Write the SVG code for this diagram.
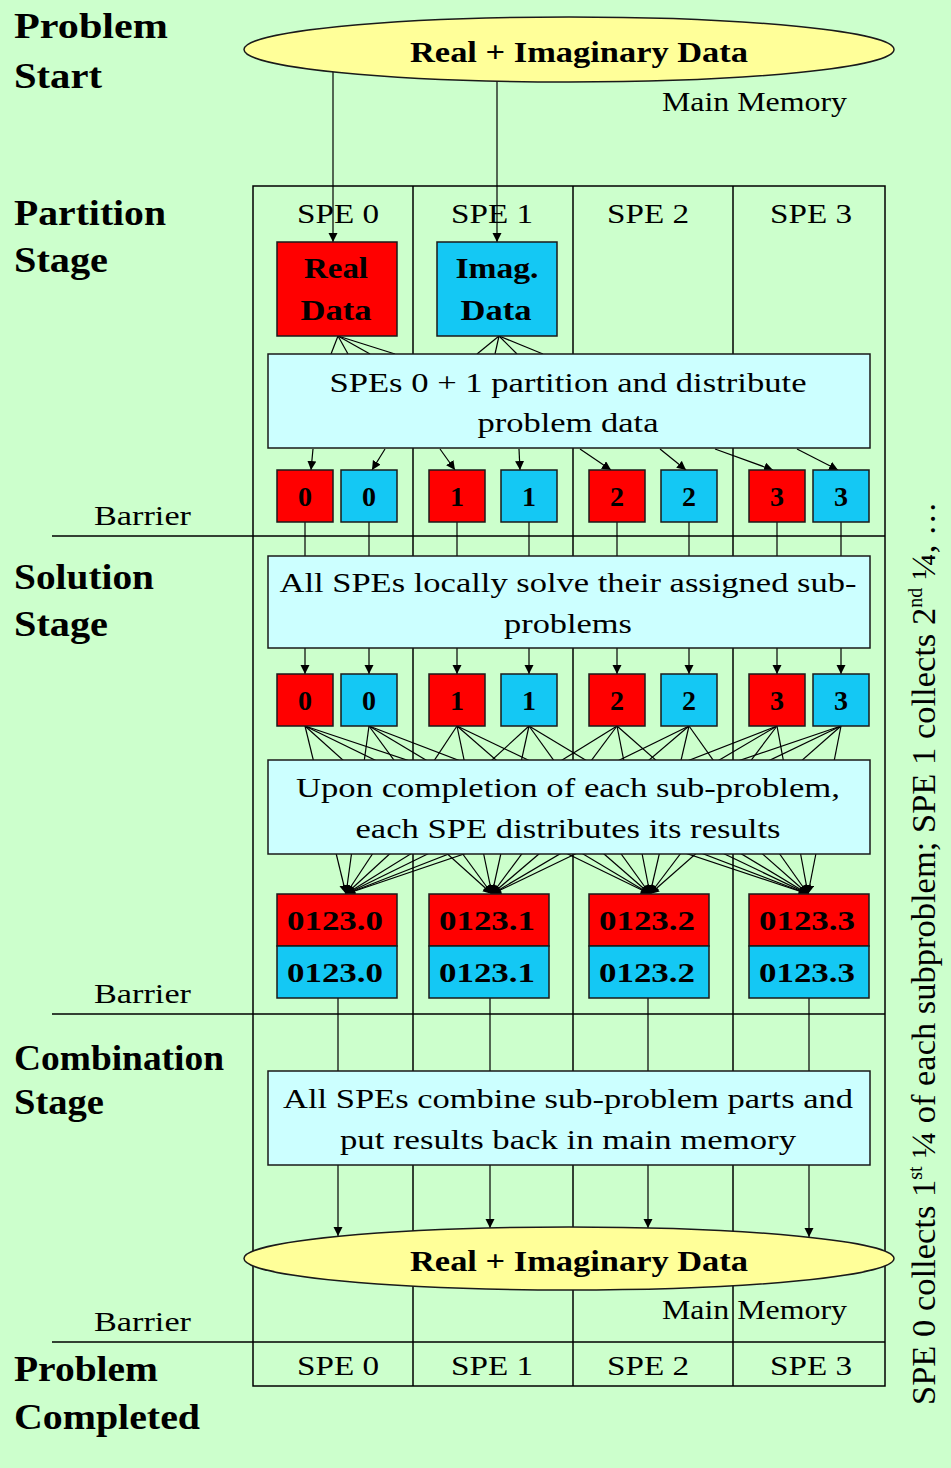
<svg xmlns="http://www.w3.org/2000/svg" width="951" height="1468" viewBox="0 0 951 1468">
<defs>
<style>
text{font-family:"Liberation Serif","Times New Roman",serif;fill:#000}
.r{font-size:27px}
.c{text-anchor:middle}
.bx{font-size:30px;font-weight:bold;text-anchor:middle}
.lb{font-size:36px;font-weight:bold}
.dg{font-size:28px;font-weight:bold;text-anchor:middle}
.grid{stroke:#000;stroke-width:1.5;fill:none}
.cn{stroke:#000;stroke-width:1.2;fill:none}
.ar{marker-end:url(#ah)}
.red{fill:#FF0000;stroke:#1a1a1a;stroke-width:1.5}
.cy{fill:#14C8F4;stroke:#1a1a1a;stroke-width:1.5}
.tb{fill:#CCFFFF;stroke:#1a1a1a;stroke-width:1.5}
.el{fill:#FFFF99;stroke:#1a1a1a;stroke-width:1.5}
</style>
<marker id="ah" markerUnits="userSpaceOnUse" markerWidth="10" markerHeight="10" refX="9" refY="4.5" orient="auto"><path d="M0,0 L9,4.5 L0,9 z" fill="#000"/></marker>
</defs>
<rect width="951" height="1468" fill="#CCFFCC"/>

<g id="frame" class="grid">
<rect x="253" y="186" width="632" height="1200"/>
<line x1="413" y1="186" x2="413" y2="1386"/>
<line x1="573" y1="186" x2="573" y2="1386"/>
<line x1="733" y1="186" x2="733" y2="1386"/>
<line x1="52" y1="536" x2="885" y2="536"/>
<line x1="52" y1="1014" x2="885" y2="1014"/>
<line x1="52" y1="1342" x2="885" y2="1342"/>
</g>

<g id="labels">
<text class="lb" x="14" y="38" textLength="154" lengthAdjust="spacingAndGlyphs">Problem</text>
<text class="lb" x="14" y="88" textLength="88" lengthAdjust="spacingAndGlyphs">Start</text>
<text class="lb" x="14" y="225" textLength="152" lengthAdjust="spacingAndGlyphs">Partition</text>
<text class="lb" x="14" y="272" textLength="94" lengthAdjust="spacingAndGlyphs">Stage</text>
<text class="lb" x="14" y="589" textLength="140" lengthAdjust="spacingAndGlyphs">Solution</text>
<text class="lb" x="14" y="636" textLength="94" lengthAdjust="spacingAndGlyphs">Stage</text>
<text class="lb" x="14" y="1070" textLength="210" lengthAdjust="spacingAndGlyphs">Combination</text>
<text class="lb" x="14" y="1114" textLength="90" lengthAdjust="spacingAndGlyphs">Stage</text>
<text class="lb" x="14" y="1381" textLength="144" lengthAdjust="spacingAndGlyphs">Problem</text>
<text class="lb" x="14" y="1429" textLength="186" lengthAdjust="spacingAndGlyphs">Completed</text>
<text class="r" x="94" y="525" textLength="97" lengthAdjust="spacingAndGlyphs">Barrier</text>
<text class="r" x="94" y="1003" textLength="97" lengthAdjust="spacingAndGlyphs">Barrier</text>
<text class="r" x="94" y="1331" textLength="97" lengthAdjust="spacingAndGlyphs">Barrier</text>
<text class="r c" x="338" y="223" textLength="82" lengthAdjust="spacingAndGlyphs">SPE 0</text>
<text class="r c" x="492" y="223" textLength="82" lengthAdjust="spacingAndGlyphs">SPE 1</text>
<text class="r c" x="648" y="223" textLength="82" lengthAdjust="spacingAndGlyphs">SPE 2</text>
<text class="r c" x="811" y="223" textLength="82" lengthAdjust="spacingAndGlyphs">SPE 3</text>
<text class="r c" x="338" y="1375" textLength="82" lengthAdjust="spacingAndGlyphs">SPE 0</text>
<text class="r c" x="492" y="1375" textLength="82" lengthAdjust="spacingAndGlyphs">SPE 1</text>
<text class="r c" x="648" y="1375" textLength="82" lengthAdjust="spacingAndGlyphs">SPE 2</text>
<text class="r c" x="811" y="1375" textLength="82" lengthAdjust="spacingAndGlyphs">SPE 3</text>
<text transform="translate(935,1405) rotate(-90)" style="font-size:34.5px">SPE 0 collects 1<tspan style="font-size:20px" dy="-13">st</tspan><tspan dy="13"> ¼ of each subproblem; SPE 1 collects 2</tspan><tspan style="font-size:20px" dy="-13">nd</tspan><tspan dy="13"> ¼, …</tspan></text>
</g>

<g id="connectors">
<line class="cn ar" x1="333" y1="72" x2="333" y2="242"/>
<line class="cn ar" x1="497" y1="81" x2="497" y2="242"/>
<line class="cn" x1="338" y1="336" x2="331" y2="354"/>
<line class="cn" x1="338" y1="336" x2="348" y2="354"/>
<line class="cn" x1="338" y1="336" x2="370" y2="354"/>
<line class="cn" x1="338" y1="336" x2="395" y2="354"/>
<line class="cn" x1="499" y1="336" x2="477" y2="354"/>
<line class="cn" x1="499" y1="336" x2="495" y2="354"/>
<line class="cn" x1="499" y1="336" x2="517" y2="354"/>
<line class="cn" x1="499" y1="336" x2="543" y2="354"/>
<line class="cn ar" x1="313" y1="449" x2="311" y2="470"/>
<line class="cn ar" x1="385" y1="449" x2="372" y2="470"/>
<line class="cn ar" x1="440" y1="449" x2="455" y2="470"/>
<line class="cn ar" x1="519" y1="449" x2="520" y2="470"/>
<line class="cn ar" x1="580" y1="449" x2="611" y2="470"/>
<line class="cn ar" x1="660" y1="449" x2="686" y2="470"/>
<line class="cn ar" x1="715" y1="449" x2="773" y2="470"/>
<line class="cn ar" x1="797" y1="449" x2="838" y2="470"/>
<path class="cn" d="M305,522V556M369,522V556M457,522V556M529,522V556M617,522V556M689,522V556M777,522V556M841,522V556"/>
<line class="cn ar" x1="305" y1="648" x2="305" y2="674"/>
<line class="cn ar" x1="369" y1="648" x2="369" y2="674"/>
<line class="cn ar" x1="457" y1="648" x2="457" y2="674"/>
<line class="cn ar" x1="529" y1="648" x2="529" y2="674"/>
<line class="cn ar" x1="617" y1="648" x2="617" y2="674"/>
<line class="cn ar" x1="689" y1="648" x2="689" y2="674"/>
<line class="cn ar" x1="777" y1="648" x2="777" y2="674"/>
<line class="cn ar" x1="841" y1="648" x2="841" y2="674"/>
<g id="all-to-all">
<line class="cn ar" x1="305" y1="726" x2="346" y2="894"/><line class="cn ar" x1="305" y1="726" x2="492" y2="894"/><line class="cn ar" x1="305" y1="726" x2="650" y2="894"/><line class="cn ar" x1="305" y1="726" x2="808" y2="894"/>
<line class="cn ar" x1="369" y1="726" x2="346" y2="894"/><line class="cn ar" x1="369" y1="726" x2="492" y2="894"/><line class="cn ar" x1="369" y1="726" x2="650" y2="894"/><line class="cn ar" x1="369" y1="726" x2="808" y2="894"/>
<line class="cn ar" x1="457" y1="726" x2="346" y2="894"/><line class="cn ar" x1="457" y1="726" x2="492" y2="894"/><line class="cn ar" x1="457" y1="726" x2="650" y2="894"/><line class="cn ar" x1="457" y1="726" x2="808" y2="894"/>
<line class="cn ar" x1="529" y1="726" x2="346" y2="894"/><line class="cn ar" x1="529" y1="726" x2="492" y2="894"/><line class="cn ar" x1="529" y1="726" x2="650" y2="894"/><line class="cn ar" x1="529" y1="726" x2="808" y2="894"/>
<line class="cn ar" x1="617" y1="726" x2="346" y2="894"/><line class="cn ar" x1="617" y1="726" x2="492" y2="894"/><line class="cn ar" x1="617" y1="726" x2="650" y2="894"/><line class="cn ar" x1="617" y1="726" x2="808" y2="894"/>
<line class="cn ar" x1="689" y1="726" x2="346" y2="894"/><line class="cn ar" x1="689" y1="726" x2="492" y2="894"/><line class="cn ar" x1="689" y1="726" x2="650" y2="894"/><line class="cn ar" x1="689" y1="726" x2="808" y2="894"/>
<line class="cn ar" x1="777" y1="726" x2="346" y2="894"/><line class="cn ar" x1="777" y1="726" x2="492" y2="894"/><line class="cn ar" x1="777" y1="726" x2="650" y2="894"/><line class="cn ar" x1="777" y1="726" x2="808" y2="894"/>
<line class="cn ar" x1="841" y1="726" x2="346" y2="894"/><line class="cn ar" x1="841" y1="726" x2="492" y2="894"/><line class="cn ar" x1="841" y1="726" x2="650" y2="894"/><line class="cn ar" x1="841" y1="726" x2="808" y2="894"/>
</g>
<path class="cn" d="M338,998V1071M490,998V1071M648,998V1071M809,998V1071"/>
<line class="cn ar" x1="338" y1="1165" x2="338" y2="1236"/>
<line class="cn ar" x1="490" y1="1165" x2="490" y2="1228"/>
<line class="cn ar" x1="648" y1="1165" x2="648" y2="1228"/>
<line class="cn ar" x1="809" y1="1165" x2="809" y2="1237"/>
</g>

<g id="mem-top">
<ellipse class="el" cx="569" cy="49.5" rx="325" ry="32.5"/>
<text class="bx" x="579" y="62" textLength="338" lengthAdjust="spacingAndGlyphs">Real + Imaginary Data</text>
<text class="r" x="662" y="111" textLength="185" lengthAdjust="spacingAndGlyphs">Main Memory</text>
</g>

<g id="real-data">
<rect class="red" x="277" y="242" width="120" height="94"/>
<text class="bx" x="336" y="278" textLength="64" lengthAdjust="spacingAndGlyphs">Real</text>
<text class="bx" x="336" y="320" textLength="71" lengthAdjust="spacingAndGlyphs">Data</text>
</g>
<g id="imag-data">
<rect class="cy" x="437" y="242" width="120" height="94"/>
<text class="bx" x="497" y="278" textLength="83" lengthAdjust="spacingAndGlyphs">Imag.</text>
<text class="bx" x="496" y="320" textLength="71" lengthAdjust="spacingAndGlyphs">Data</text>
</g>

<g id="partition">
<rect class="tb" x="268" y="354" width="602" height="94"/>
<text class="r c" x="568" y="392" textLength="477" lengthAdjust="spacingAndGlyphs">SPEs 0 + 1 partition and distribute</text>
<text class="r c" x="568" y="432" textLength="181" lengthAdjust="spacingAndGlyphs">problem data</text>
</g>

<g id="row1">
<rect class="red" x="277" y="470" width="56" height="52"/><text class="dg" x="305" y="506">0</text>
<rect class="cy" x="341" y="470" width="56" height="52"/><text class="dg" x="369" y="506">0</text>
<rect class="red" x="429" y="470" width="56" height="52"/><text class="dg" x="457" y="506">1</text>
<rect class="cy" x="501" y="470" width="56" height="52"/><text class="dg" x="529" y="506">1</text>
<rect class="red" x="589" y="470" width="56" height="52"/><text class="dg" x="617" y="506">2</text>
<rect class="cy" x="661" y="470" width="56" height="52"/><text class="dg" x="689" y="506">2</text>
<rect class="red" x="749" y="470" width="56" height="52"/><text class="dg" x="777" y="506">3</text>
<rect class="cy" x="813" y="470" width="56" height="52"/><text class="dg" x="841" y="506">3</text>
</g>

<g id="solution">
<rect class="tb" x="268" y="556" width="602" height="92"/>
<text class="r c" x="568" y="592" textLength="577" lengthAdjust="spacingAndGlyphs">All SPEs locally solve their assigned sub-</text>
<text class="r c" x="568" y="633" textLength="128" lengthAdjust="spacingAndGlyphs">problems</text>
</g>

<g id="row2">
<rect class="red" x="277" y="674" width="56" height="52"/><text class="dg" x="305" y="710">0</text>
<rect class="cy" x="341" y="674" width="56" height="52"/><text class="dg" x="369" y="710">0</text>
<rect class="red" x="429" y="674" width="56" height="52"/><text class="dg" x="457" y="710">1</text>
<rect class="cy" x="501" y="674" width="56" height="52"/><text class="dg" x="529" y="710">1</text>
<rect class="red" x="589" y="674" width="56" height="52"/><text class="dg" x="617" y="710">2</text>
<rect class="cy" x="661" y="674" width="56" height="52"/><text class="dg" x="689" y="710">2</text>
<rect class="red" x="749" y="674" width="56" height="52"/><text class="dg" x="777" y="710">3</text>
<rect class="cy" x="813" y="674" width="56" height="52"/><text class="dg" x="841" y="710">3</text>
</g>

<g id="distribute">
<rect class="tb" x="268" y="760" width="602" height="94"/>
<text class="r c" x="568" y="797" textLength="544" lengthAdjust="spacingAndGlyphs">Upon completion of each sub-problem,</text>
<text class="r c" x="568" y="838" textLength="425" lengthAdjust="spacingAndGlyphs">each SPE distributes its results</text>
</g>

<g id="results">
<rect class="red" x="277" y="894" width="120" height="52"/><text class="dg" x="335" y="930" textLength="96" lengthAdjust="spacingAndGlyphs">0123.0</text>
<rect class="cy" x="277" y="946" width="120" height="52"/><text class="dg" x="335" y="982" textLength="96" lengthAdjust="spacingAndGlyphs">0123.0</text>
<rect class="red" x="429" y="894" width="120" height="52"/><text class="dg" x="487" y="930" textLength="96" lengthAdjust="spacingAndGlyphs">0123.1</text>
<rect class="cy" x="429" y="946" width="120" height="52"/><text class="dg" x="487" y="982" textLength="96" lengthAdjust="spacingAndGlyphs">0123.1</text>
<rect class="red" x="589" y="894" width="120" height="52"/><text class="dg" x="647" y="930" textLength="96" lengthAdjust="spacingAndGlyphs">0123.2</text>
<rect class="cy" x="589" y="946" width="120" height="52"/><text class="dg" x="647" y="982" textLength="96" lengthAdjust="spacingAndGlyphs">0123.2</text>
<rect class="red" x="749" y="894" width="120" height="52"/><text class="dg" x="807" y="930" textLength="96" lengthAdjust="spacingAndGlyphs">0123.3</text>
<rect class="cy" x="749" y="946" width="120" height="52"/><text class="dg" x="807" y="982" textLength="96" lengthAdjust="spacingAndGlyphs">0123.3</text>
</g>

<g id="combine">
<rect class="tb" x="268" y="1071" width="602" height="94"/>
<text class="r c" x="568" y="1108" textLength="570" lengthAdjust="spacingAndGlyphs">All SPEs combine sub-problem parts and</text>
<text class="r c" x="568" y="1149" textLength="456" lengthAdjust="spacingAndGlyphs">put results back in main memory</text>
</g>

<g id="mem-bottom">
<ellipse class="el" cx="569" cy="1258.5" rx="325" ry="31.5"/>
<text class="bx" x="579" y="1271" textLength="338" lengthAdjust="spacingAndGlyphs">Real + Imaginary Data</text>
<text class="r" x="662" y="1319" textLength="185" lengthAdjust="spacingAndGlyphs">Main Memory</text>
</g>
</svg>
